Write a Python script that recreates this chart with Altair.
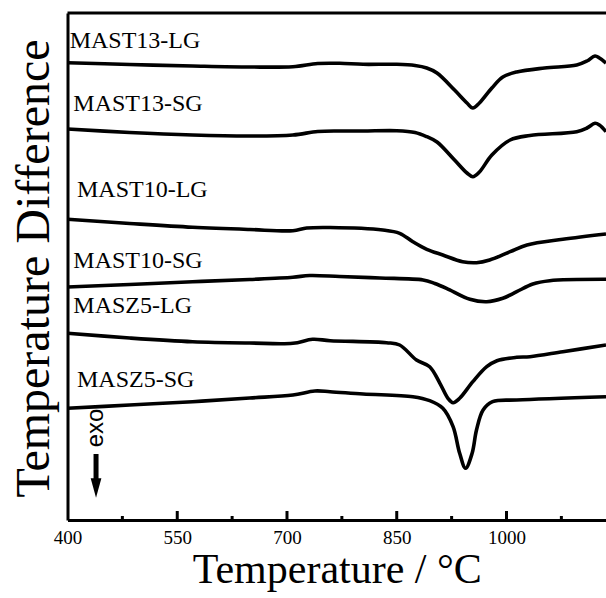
import altair as alt
import pandas as pd

# ---- data (temperature in °C, signal in arbitrary offset units) ----
series_names = ["MAST13-LG", "MAST13-SG", "MAST10-LG", "MAST10-SG", "MASZ5-LG", "MASZ5-SG"]

t_mast13_lg = [400, 485, 571, 649, 708, 742, 772, 804, 850, 875, 891, 905, 929, 946, 954, 963, 980, 995, 1014, 1052, 1096, 1110, 1121, 1127, 1136]
v_mast13_lg = [457.3, 455.5, 454, 453, 453.3, 456.5, 456.7, 455.7, 455.7, 454.5, 452, 447, 430, 417, 412, 417, 432, 443, 448, 452, 455, 459, 464, 462, 457]

t_mast13_sg = [400, 485, 571, 649, 708, 742, 772, 804, 850, 875, 891, 905, 929, 946, 954, 963, 980, 1005, 1032, 1096, 1110, 1121, 1127, 1136]
v_mast13_sg = [391, 387.5, 385, 384, 385, 388.5, 389, 389, 389.3, 387.5, 383.3, 378, 360, 347, 343.3, 348, 365, 380, 384.5, 388.3, 392, 396.7, 395, 388.3]

t_mast10_lg = [400, 485, 571, 649, 708, 727, 759, 831, 854, 872, 891, 913, 940, 959, 977, 1005, 1028, 1077, 1136]
v_mast10_lg = [300.7, 296.5, 292.7, 290.5, 289.3, 292, 292.5, 290, 286.7, 278.3, 270.7, 265, 258.3, 257.3, 260, 268.3, 275, 280.7, 286]

t_mast10_sg = [400, 485, 571, 649, 708, 731, 772, 827, 886, 902, 918, 950, 973, 995, 1014, 1036, 1059, 1136]
v_mast10_sg = [233, 235.5, 238.3, 240.5, 242.7, 244.5, 243.5, 242, 240, 236.5, 231.7, 220.7, 218.3, 221.7, 228.3, 236, 239.3, 240.7]

t_masz5_lg = [400, 485, 571, 649, 708, 735, 759, 836, 854, 877, 895, 909, 920, 927, 936, 954, 973, 987, 1014, 1032, 1077, 1136]
v_masz5_lg = [186.7, 182, 178.3, 177, 176.7, 180.7, 179.3, 177.3, 175, 160, 153.3, 136.7, 121.7, 117.3, 121.7, 138.3, 153.3, 159.3, 162.7, 163.3, 168.3, 175]

t_masz5_sg = [400, 485, 571, 649, 708, 738, 759, 804, 872, 895, 913, 927, 936, 944, 953, 959, 968, 981, 1014, 1136]
v_masz5_sg = [111.7, 115, 118.3, 122, 125, 129, 128.3, 126, 123.3, 119.3, 111.7, 93.3, 66.7, 51.7, 66.7, 90, 110, 118.3, 120, 123.3]

label_t = [403, 408, 413, 408, 408, 413]
label_v = [472, 409, 323, 252, 207, 133]

major_ticks = [550, 700, 850, 1000]
minor_ticks = [475, 625, 775, 925, 1075]
tick_labels = [400, 550, 700, 850, 1000]

exo_t = [439]
exo_v = [92]
arrow_t = [439]
arrow_v_start = [66]
arrow_v_end = [40]
arrow_head_v = [32]

# ---- build tables ----
curves_t = [t_mast13_lg, t_mast13_sg, t_mast10_lg, t_mast10_sg, t_masz5_lg, t_masz5_sg]
curves_v = [v_mast13_lg, v_mast13_sg, v_mast10_lg, v_mast10_sg, v_masz5_lg, v_masz5_sg]
rows = []
for name, ts, vs in zip(series_names, curves_t, curves_v):
    for i, (t, v) in enumerate(zip(ts, vs)):
        rows.append({"series": name, "T": t, "v": v, "order": i})
df = pd.DataFrame(rows)
df_labels = pd.DataFrame({"series": series_names, "T": label_t, "v": label_v})
df_major = pd.DataFrame({"T": major_ticks})
df_minor = pd.DataFrame({"T": minor_ticks})
df_exo = pd.DataFrame({"T": exo_t, "v": exo_v, "txt": ["exo"]})
df_arrow = pd.DataFrame({"T": arrow_t, "v": arrow_v_start, "v2": arrow_v_end, "vh": arrow_head_v})

W, H = 538.5, 507
SERIF = "Liberation Serif"

xscale = alt.Scale(domain=[400, 1136], nice=False, zero=False)
yscale = alt.Scale(domain=[0, 507], nice=False, zero=False)

x_axis = alt.Axis(values=tick_labels, format="d", ticks=False, grid=False, labelFlush=False, labelOverlap=False,
                  labelFont=SERIF, labelFontSize=19, labelColor="black", labelPadding=8,
                  domainColor="black", domainWidth=3,
                  title="Temperature / °C", titleFont=SERIF, titleFontSize=42, titleFontWeight="normal",
                  titleColor="black", titleBaseline="alphabetic", titleY=62)
y_axis = alt.Axis(labels=False, ticks=False, grid=False, domainColor="black", domainWidth=3,
                  title="Temperature Difference", titleFont=SERIF, titleFontSize=48, titleFontWeight="normal",
                  titleColor="black", titleBaseline="alphabetic", titleAngle=270, titleAlign="center",
                  titleX=-19, titleY=255)

lines = alt.Chart(df).mark_line(color="black", strokeWidth=3.6, interpolate="catmull-rom").encode(
    x=alt.X("T:Q", scale=xscale, axis=x_axis),
    y=alt.Y("v:Q", scale=yscale, axis=y_axis),
    detail="series:N",
    order="order:Q",
)

labels = alt.Chart(df_labels).mark_text(font=SERIF, fontSize=24, align="left", baseline="alphabetic",
                                         color="black").encode(
    x=alt.X("T:Q", scale=xscale), y=alt.Y("v:Q", scale=yscale), text="series:N")

top_border = alt.Chart(df_exo).mark_rule(color="black", strokeWidth=3).encode(
    x=alt.value(0), x2=alt.value(W), y=alt.value(0))

major = alt.Chart(df_major).mark_rule(color="black", strokeWidth=3).encode(
    x=alt.X("T:Q", scale=xscale), y=alt.value(H), y2=alt.value(H - 9))
minor = alt.Chart(df_minor).mark_rule(color="black", strokeWidth=3).encode(
    x=alt.X("T:Q", scale=xscale), y=alt.value(H), y2=alt.value(H - 4))

exo = alt.Chart(df_exo).mark_text(font="Liberation Sans", fontSize=24, angle=270, align="center",
                                  baseline="middle", color="black").encode(
    x=alt.X("T:Q", scale=xscale), y=alt.Y("v:Q", scale=yscale), text="txt:N")

shaft = alt.Chart(df_arrow).mark_rule(color="black", strokeWidth=5).encode(
    x=alt.X("T:Q", scale=xscale), y=alt.Y("v:Q", scale=yscale), y2="v2:Q")
head = alt.Chart(df_arrow).mark_point(shape="M -0.55 -1 L 0.55 -1 L 0 1 Z", size=380, filled=True,
                                      color="black", opacity=1).encode(
    x=alt.X("T:Q", scale=xscale), y=alt.Y("vh:Q", scale=yscale))

chart = alt.layer(lines, labels, top_border, major, minor, exo, shaft, head).properties(
    width=W, height=H,
    autosize=alt.AutoSizeParams(type="none"),
    padding={"left": 67.5, "top": 13, "right": 0, "bottom": 78},
    background="white",
).configure_view(stroke=None)

chart.save("out.html", embed_options={"renderer": "svg", "actions": False})
